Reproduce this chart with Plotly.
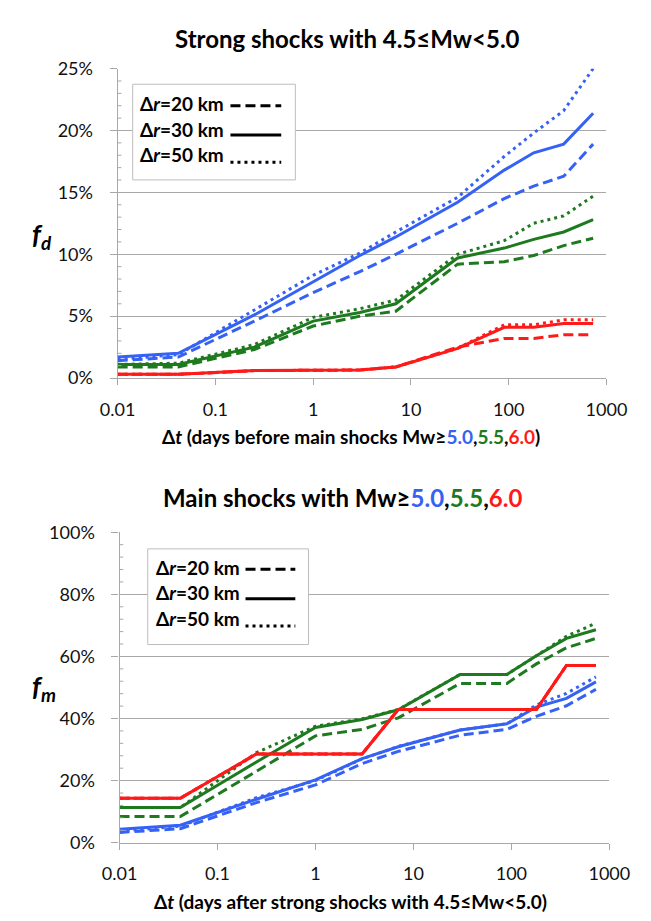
import plotly.graph_objects as go

W, H = 651, 921

# ---------------- data ----------------
t_days = [0.01, 0.0417, 0.25, 1, 3, 7, 30, 90, 180, 365, 730]

# top panel: f_d (%)
fd_blue_20 = [1.4, 1.7, 4.6, 6.9, 8.6, 10.0, 12.5, 14.5, 15.5, 16.3, 18.9]
fd_blue_30 = [1.7, 2.0, 5.1, 7.8, 9.9, 11.4, 14.2, 16.8, 18.2, 18.9, 21.4]
fd_blue_50 = [1.5, 1.9, 5.5, 8.3, 10.1, 11.8, 14.6, 17.9, 19.8, 21.6, 25.0]
fd_green_20 = [0.9, 0.9, 2.3, 4.2, 5.0, 5.4, 9.2, 9.4, 9.9, 10.7, 11.3]
fd_green_30 = [1.1, 1.1, 2.5, 4.6, 5.3, 6.0, 9.7, 10.5, 11.2, 11.8, 12.8]
fd_green_50 = [1.1, 1.2, 2.7, 4.9, 5.6, 6.3, 10.0, 11.1, 12.5, 13.1, 14.7]
fd_red_20 = [0.3, 0.3, 0.6, 0.6, 0.65, 0.9, 2.5, 3.2, 3.2, 3.5, 3.5]
fd_red_30 = [0.3, 0.3, 0.6, 0.6, 0.65, 0.9, 2.4, 4.1, 4.1, 4.4, 4.4]
fd_red_50 = [0.3, 0.3, 0.6, 0.6, 0.65, 0.9, 2.4, 4.3, 4.3, 4.7, 4.7]

# bottom panel: f_m (%)
fm_blue_20 = [3.3, 4.5, 12.9, 18.6, 25.5, 29.4, 34.6, 36.5, 40.7, 44.1, 49.4]
fm_blue_30 = [4.3, 5.6, 14.0, 20.2, 27.1, 30.9, 36.3, 38.3, 43.7, 46.5, 51.8]
fm_blue_50 = [3.7, 5.3, 14.5, 20.0, 27.0, 31.0, 36.3, 38.3, 44.4, 48.1, 53.4]
fm_green_20 = [8.4, 8.4, 23.0, 34.4, 36.5, 40.2, 51.3, 51.3, 57.6, 62.8, 65.8]
fm_green_30 = [11.3, 11.3, 26.0, 37.1, 39.7, 42.8, 54.2, 54.2, 60.2, 65.8, 68.6]
fm_green_50 = [11.3, 11.3, 29.0, 37.5, 39.9, 42.9, 54.2, 54.2, 60.2, 66.5, 70.7]
fm_red_20 = [14.3, 14.3, 28.6, 28.6, 28.6, 42.9, 42.9, 42.9, 42.9, 57.1, 57.1]
fm_red_30 = [14.3, 14.3, 28.6, 28.6, 28.6, 42.9, 42.9, 42.9, 42.9, 57.1, 57.1]
fm_red_50 = [14.3, 14.3, 28.6, 28.6, 28.6, 42.9, 42.9, 42.9, 42.9, 57.1, 57.1]

x_tickvals = [0.01, 0.1, 1, 10, 100, 1000]
x_ticktext = ["0.01", "0.1", "1", "10", "100", "1000"]
fd_ticks = [0, 5, 10, 15, 20, 25]
fd_ticktext = ["0%", "5%", "10%", "15%", "20%", "25%"]
fm_ticks = [0, 20, 40, 60, 80, 100]
fm_ticktext = ["0%", "20%", "40%", "60%", "80%", "100%"]
legend_labels = ["Δ<i>r</i>=20 km", "Δ<i>r</i>=30 km", "Δ<i>r</i>=50 km"]

# ---------------- styles ----------------
BLUE = "#3562F5"
GREEN = "#1E7A1E"
RED = "#FF1A1A"
GRID = "#A8A8A8"
DASH = "10px,5px"
DOT = "3px,4px"
FONT = "Lato"


def px(x):
    return x / W


def py(y):
    return 1 - y / H


fig = go.Figure()

top_series = [
    (fd_blue_20, BLUE, DASH), (fd_blue_50, BLUE, DOT), (fd_blue_30, BLUE, "solid"),
    (fd_green_20, GREEN, DASH), (fd_green_50, GREEN, DOT), (fd_green_30, GREEN, "solid"),
    (fd_red_20, RED, DASH), (fd_red_50, RED, DOT), (fd_red_30, RED, "solid"),
]
bot_series = [
    (fm_blue_20, BLUE, DASH), (fm_blue_50, BLUE, DOT), (fm_blue_30, BLUE, "solid"),
    (fm_green_20, GREEN, DASH), (fm_green_50, GREEN, DOT), (fm_green_30, GREEN, "solid"),
    (fm_red_20, RED, DASH), (fm_red_50, RED, DOT), (fm_red_30, RED, "solid"),
]

for ys, col, dash in top_series:
    fig.add_trace(go.Scatter(x=t_days, y=ys, mode="lines", xaxis="x", yaxis="y",
                             line=dict(color=col, width=3, dash=dash),
                             showlegend=False, hoverinfo="skip"))
for ys, col, dash in bot_series:
    fig.add_trace(go.Scatter(x=t_days, y=ys, mode="lines", xaxis="x2", yaxis="y2",
                             line=dict(color=col, width=3, dash=dash),
                             showlegend=False, hoverinfo="skip"))

xaxis_common = dict(
    type="log", range=[-2, 3], tickmode="array", tickvals=x_tickvals, ticktext=x_ticktext,
    showgrid=False, zeroline=False, showline=True, linecolor=GRID, linewidth=1.2,
    ticks="outside", ticklen=6, tickcolor=GRID, tickwidth=1.2,
    tickfont=dict(family=FONT, size=18, color="#111111"), ticklabelstandoff=9,
)
yaxis_common = dict(
    tickmode="array",
    showgrid=True, gridcolor=GRID, gridwidth=1.2, zeroline=False,
    showline=True, linecolor=GRID, linewidth=1.2,
    ticks="outside", ticklen=7, tickcolor=GRID, tickwidth=1.2,
    tickfont=dict(family=FONT, size=18, color="#111111"),
    ticklabelstandoff=13,
)

fig.update_layout(
    width=W, height=H, margin=dict(l=0, r=0, t=0, b=0),
    paper_bgcolor="white", plot_bgcolor="white",
    font=dict(family=FONT, color="black"),
    xaxis=dict(domain=[px(106), px(626)], anchor="y", **xaxis_common),
    yaxis=dict(domain=[py(375), py(58)], anchor="x", range=[0, 25],
               tickvals=fd_ticks, ticktext=fd_ticktext, **yaxis_common),
    xaxis2=dict(domain=[px(108), px(629)], anchor="y2", **xaxis_common),
    yaxis2=dict(domain=[py(851), py(533)], anchor="x2", range=[0, 100],
                tickvals=fm_ticks, ticktext=fm_ticktext, **yaxis_common),
)

ann = []
ann.append(dict(text="<b>Strong shocks with 4.5≤Mw<5.0</b>", x=px(350), y=py(27),
                font=dict(size=24)))
ann.append(dict(text=("<b>Δ<i>t</i> (days before main shocks Mw≥"
                      f"<span style='color:{BLUE}'>5.0</span>,"
                      f"<span style='color:{GREEN}'>5.5</span>,"
                      f"<span style='color:{RED}'>6.0</span>)</b>"),
                x=px(354), y=py(435), font=dict(size=19)))
ann.append(dict(text=("<b>Main shocks with Mw≥"
                      f"<span style='color:{BLUE}'>5.0</span>,"
                      f"<span style='color:{GREEN}'>5.5</span>,"
                      f"<span style='color:{RED}'>6.0</span></b>"),
                x=px(345), y=py(497), font=dict(size=24)))
ann.append(dict(text="<b>Δ<i>t</i> (days after strong shocks with 4.5≤Mw<5.0)</b>",
                x=px(354), y=py(911), font=dict(size=19)))
ann.append(dict(text="<b><i>f<sub>d</sub></i></b>", x=px(25), y=py(229), font=dict(size=27)))
ann.append(dict(text="<b><i>f<sub>m</sub></i></b>", x=px(28), y=py(692), font=dict(size=27)))

shapes = []


def add_legend(box, text_x, rows, samples, sx0, sx1):
    x0, y0, x1, y1 = box
    shapes.append(dict(type="rect", xref="paper", yref="paper",
                       x0=px(x0), x1=px(x1), y0=py(y1), y1=py(y0),
                       line=dict(color="#BDBDBD", width=1), fillcolor="white", layer="above"))
    for lab, ry in zip(legend_labels, rows):
        ann.append(dict(text=f"<b>{lab}</b>", x=px(text_x), y=py(ry), xanchor="left",
                        font=dict(size=19), borderpad=0))
    for sy, dash in zip(samples, [DASH, "solid", DOT]):
        shapes.append(dict(type="line", xref="paper", yref="paper",
                           x0=px(sx0), x1=px(sx1), y0=py(sy), y1=py(sy),
                           line=dict(color="black", width=3, dash=dash), layer="above"))


add_legend((122, 74, 295, 172), 129, [94, 120, 146], [96, 126, 154], 226, 280)
add_legend((138, 550, 309, 648), 146, [569, 595, 621], [571, 601, 629], 242, 295)

# minor tick marks inside the y axes
fd_minor = [v for v in range(0, 26) if v % 5]
fm_minor = [v for v in range(0, 101, 4) if v % 20]
for v in fd_minor:
    shapes.append(dict(type="line", xref="paper", yref="y", x0=px(106), x1=px(110),
                       y0=v, y1=v, line=dict(color=GRID, width=1)))
for v in fm_minor:
    shapes.append(dict(type="line", xref="paper", yref="y2", x0=px(108), x1=px(112),
                       y0=v, y1=v, line=dict(color=GRID, width=1)))

for a in ann:
    a.setdefault("xref", "paper")
    a.setdefault("yref", "paper")
    a.setdefault("showarrow", False)
    a.setdefault("xanchor", "center")
    a.setdefault("yanchor", "middle")

fig.update_layout(annotations=ann, shapes=shapes)
fig.write_html("out.html")
